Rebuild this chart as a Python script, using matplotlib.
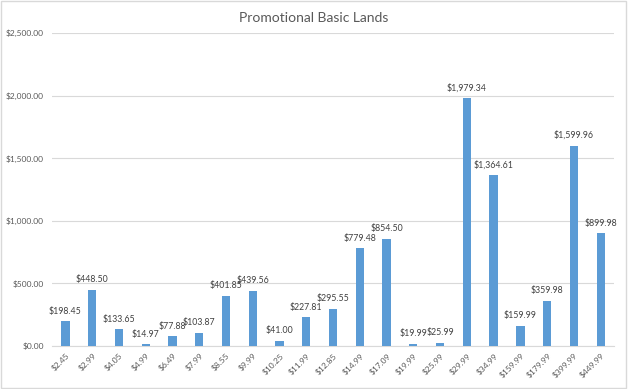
import matplotlib
matplotlib.use("Agg")
import matplotlib.pyplot as plt
from matplotlib.patches import Rectangle
from matplotlib.ticker import FuncFormatter

categories = ["$2.45", "$2.99", "$4.05", "$4.99", "$6.49", "$7.99", "$8.55", "$9.99",
              "$10.25", "$11.99", "$12.85", "$14.99", "$17.09", "$19.99", "$25.99",
              "$29.99", "$34.99", "$159.99", "$179.99", "$399.99", "$449.99"]
values = [198.45, 448.50, 133.65, 14.97, 77.88, 103.87, 401.85, 439.56, 41.00, 227.81,
          295.55, 779.48, 854.50, 19.99, 25.99, 1979.34, 1364.61, 159.99, 359.98,
          1599.96, 899.98]
title = "Promotional Basic Lands"

plt.rcParams['font.family'] = ['Lato', 'DejaVu Sans']
text_color = "#595959"
bar_color = "#5B9BD5"

fig = plt.figure(figsize=(6.28, 3.89), dpi=100)
ax = fig.add_axes([0.0828, 0.1105, 0.895, 0.8046])

x = list(range(len(categories)))
ax.bar(x, values, width=0.31, color=bar_color, zorder=3)
for xi, v in zip(x, values):
    ax.annotate(f"${v:,.2f}", (xi, v), xytext=(0, 4), textcoords="offset points",
                ha="center", va="bottom", fontsize=6.3, color="#404040")

ax.set_xlim(-0.5, len(categories) - 0.5)
ax.set_ylim(0, 2500)
ax.set_yticks([0, 500, 1000, 1500, 2000, 2500])
ax.yaxis.set_major_formatter(FuncFormatter(lambda v, p: f"${v:,.2f}"))
ax.grid(axis="y", color="#D9D9D9", linewidth=0.8, zorder=0)
ax.set_xticks(x)
ax.set_xticklabels(categories, rotation=45, ha="right", rotation_mode="anchor", fontsize=6, color=text_color)
ax.tick_params(axis="y", labelsize=6, labelcolor=text_color, length=0, pad=6)
ax.tick_params(axis="x", length=0, pad=4)
for s in ["top", "right", "left"]:
    ax.spines[s].set_visible(False)
ax.spines["bottom"].set_color("#D9D9D9")

fig.text(0.5, 0.955, title, ha="center", va="center", fontsize=10, color=text_color)
fig.patches.append(Rectangle((0.002, 0.003), 0.995, 0.994, transform=fig.transFigure,
                             fill=False, edgecolor="#D9D9D9", linewidth=1))

fig.savefig("out.png", dpi=100)
